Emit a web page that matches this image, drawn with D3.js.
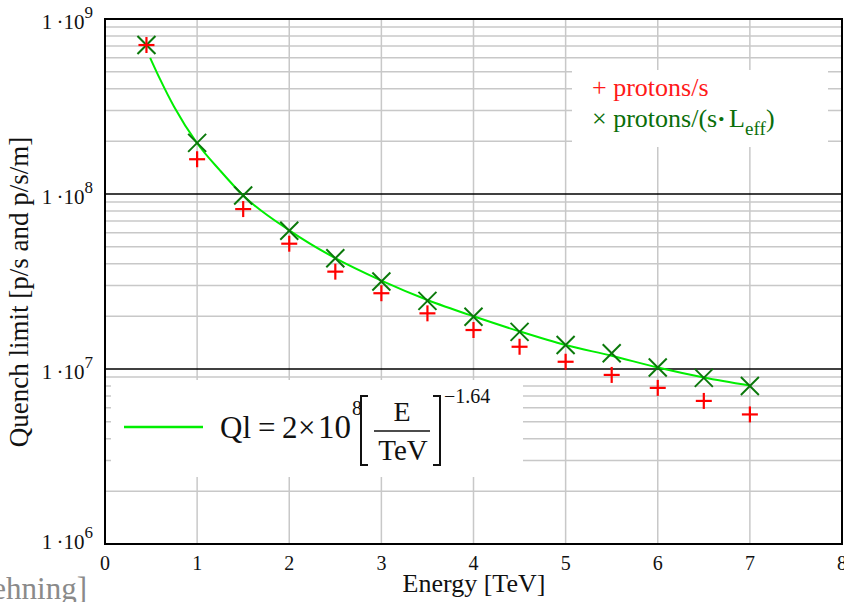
<!DOCTYPE html>
<html>
<head>
<meta charset="utf-8">
<script src="https://cdn.jsdelivr.net/npm/d3@7"></script>
<style>
  html, body { margin: 0; padding: 0; background: #fff; }
  svg { display: block; }
  text { font-family: "Liberation Serif", "Times New Roman", serif; }
</style>
</head>
<body>
<svg id="chart" width="844" height="602"></svg>
<script>
// ---- data ----
const energy = [0.45, 1, 1.5, 2, 2.5, 3, 3.5, 4, 4.5, 5, 5.5, 6, 6.5, 7];
const protonsPerS = [7.1e8, 1.58e8, 8.2e7, 5.2e7, 3.6e7, 2.71e7, 2.08e7, 1.67e7, 1.34e7, 1.10e7, 9.25e6, 7.8e6, 6.57e6, 5.5e6];
const protonsPerSL = [7.1e8, 1.96e8, 9.8e7, 6.17e7, 4.29e7, 3.16e7, 2.45e7, 1.99e7, 1.63e7, 1.37e7, 1.23e7, 1.02e7, 8.9e6, 8.0e6];
const fitE = [0.49, 0.6, 0.75, 1, 1.25, 1.5, 2, 2.5, 3, 3.5, 4, 4.5, 5, 5.5, 6, 6.5, 7];
const fitQ = [6.0e8, 4.5e8, 3.15e8, 1.95e8, 1.36e8, 9.8e7, 6.2e7, 4.3e7, 3.2e7, 2.48e7, 2.0e7, 1.64e7, 1.37e7, 1.19e7, 1.02e7, 8.95e6, 8.05e6];
const xTicks = [0, 1, 2, 3, 4, 5, 6, 7, 8];
const yDecades = [6, 7, 8, 9];
const minorMultipliers = [2, 3, 4, 5, 6, 7, 8, 9];
const xTitle = "Energy [TeV]";
const yTitle = "Quench limit [p/s and p/s/m]";

// ---- layout ----
const L = 105, R = 842, T = 19, B = 544;
const svg = d3.select("#chart");
svg.append("rect").attr("width", 844).attr("height", 602).attr("fill", "#fff");

const x = d3.scaleLinear().domain([0, 8]).range([L, R]);
const y = d3.scaleLog().domain([1e6, 1e9]).range([B, T]);

// minor horizontal grid
const minorVals = [];
yDecades.slice(0, 3).forEach(e => minorMultipliers.forEach(m => minorVals.push(m * Math.pow(10, e))));
svg.append("g").selectAll("line").data(minorVals).join("line")
  .attr("x1", L).attr("x2", R)
  .attr("y1", d => y(d)).attr("y2", d => y(d))
  .attr("stroke", "#c8c8c8").attr("stroke-width", 1.5);

// vertical grid
svg.append("g").selectAll("line").data(xTicks.slice(1, -1)).join("line")
  .attr("x1", d => x(d)).attr("x2", d => x(d))
  .attr("y1", T).attr("y2", B)
  .attr("stroke", "#c8c8c8").attr("stroke-width", 1.5);

// major horizontal lines
svg.append("g").selectAll("line").data(yDecades.slice(1, -1)).join("line")
  .attr("x1", L).attr("x2", R)
  .attr("y1", d => y(Math.pow(10, d))).attr("y2", d => y(Math.pow(10, d)))
  .attr("stroke", "#000").attr("stroke-width", 1.6);

// legend backgrounds (cover grid)
svg.append("rect").attr("x", 572).attr("y", 70).attr("width", 256).attr("height", 77).attr("fill", "#fff");
svg.append("rect").attr("x", 111).attr("y", 380).attr("width", 412).attr("height", 97).attr("fill", "#fff");

// fit curve
const line = d3.line().x(d => x(d[0])).y(d => y(d[1])).curve(d3.curveMonotoneX);
svg.append("path").datum(fitE.map((e, i) => [e, fitQ[i]]))
  .attr("d", line).attr("fill", "none").attr("stroke", "#00ee00").attr("stroke-width", 2);

// green crosses
const gx = svg.append("g").attr("stroke", "#0a780a").attr("stroke-width", 2);
energy.forEach((e, i) => {
  const cx = x(e), cy = y(protonsPerSL[i]), s = 9;
  gx.append("line").attr("x1", cx - s).attr("y1", cy - s).attr("x2", cx + s).attr("y2", cy + s);
  gx.append("line").attr("x1", cx - s).attr("y1", cy + s).attr("x2", cx + s).attr("y2", cy - s);
});
// red plus
const rp = svg.append("g").attr("stroke", "#ff0000").attr("stroke-width", 2.2);
energy.forEach((e, i) => {
  const cx = x(e), cy = y(protonsPerS[i]), s = 8;
  rp.append("line").attr("x1", cx - s).attr("y1", cy).attr("x2", cx + s).attr("y2", cy);
  rp.append("line").attr("x1", cx).attr("y1", cy - s).attr("x2", cx).attr("y2", cy + s);
});

// frame
svg.append("rect").attr("x", L).attr("y", T).attr("width", R - L).attr("height", B - T)
  .attr("fill", "none").attr("stroke", "#000").attr("stroke-width", 2);

// x tick labels
svg.append("g").selectAll("text").data(xTicks).join("text")
  .attr("x", d => x(d)).attr("y", 570).attr("text-anchor", "middle")
  .attr("font-size", 20).attr("fill", "#111").text(d => d);

// y tick labels
yDecades.forEach(e => {
  const yy = y(Math.pow(10, e)) + (e === 6 ? 5 : 10);
  const t = svg.append("text").attr("x", 93).attr("y", yy).attr("text-anchor", "end")
    .attr("font-size", 21).attr("fill", "#111");
  t.append("tspan").text("1\u2009\u00b710");
  t.append("tspan").attr("dy", -11).attr("font-size", 17).text(e);
});

// axis titles
svg.append("text").attr("x", 474).attr("y", 592).attr("text-anchor", "middle")
  .attr("font-size", 26).attr("fill", "#111").text(xTitle);
svg.append("text").attr("transform", "translate(28,292) rotate(-90)")
  .attr("text-anchor", "middle").attr("font-size", 27).attr("fill", "#111").text(yTitle);

// source credit (cut off at left)
svg.append("text").attr("x", 87).attr("y", 599).attr("text-anchor", "end")
  .attr("font-size", 31).attr("fill", "#8a8a8a").text("[B. Dehning]");

// top-right legend
svg.append("text").attr("x", 592).attr("y", 96).attr("font-size", 26).attr("fill", "#ff1a1a")
  .text("+ protons/s");
const lg = svg.append("text").attr("y", 127).attr("font-size", 26).attr("fill", "#0a6e0a");
lg.append("tspan").attr("x", 592).text("\u00d7 protons/(s");
lg.append("tspan").attr("x", 717).attr("font-weight", "bold").text("\u00b7");
lg.append("tspan").attr("x", 729).attr("font-weight", "normal").text("L");
lg.append("tspan").attr("x", 745).attr("dy", 8).attr("font-size", 19).text("eff");
lg.append("tspan").attr("x", 766).attr("dy", -8).text(")");

// formula legend
svg.append("line").attr("x1", 124).attr("x2", 203).attr("y1", 427).attr("y2", 427)
  .attr("stroke", "#00ee00").attr("stroke-width", 2.5);
const fg = svg.append("g").attr("fill", "#111");
fg.append("text").attr("x", 220).attr("y", 438).attr("font-size", 31).text("Ql");
fg.append("text").attr("x", 258).attr("y", 438).attr("font-size", 31).text("=");
fg.append("text").attr("x", 282).attr("y", 438).attr("font-size", 31).text("2");
fg.append("text").attr("x", 298).attr("y", 438).attr("font-size", 31).text("\u00d7");
fg.append("text").attr("x", 318).attr("y", 438).attr("font-size", 33).text("10");
fg.append("text").attr("x", 352).attr("y", 415).attr("font-size", 20).text("8");
// brackets
fg.append("path").attr("d", "M368,396 L361,396 L361,465 L368,465")
  .attr("fill", "none").attr("stroke", "#111").attr("stroke-width", 2);
fg.append("path").attr("d", "M433,396 L440,396 L440,465 L433,465")
  .attr("fill", "none").attr("stroke", "#111").attr("stroke-width", 2);
fg.append("line").attr("x1", 374).attr("x2", 430).attr("y1", 431).attr("y2", 431)
  .attr("stroke", "#111").attr("stroke-width", 1.5);
fg.append("text").attr("x", 402).attr("y", 421).attr("text-anchor", "middle").attr("font-size", 28).text("E");
fg.append("text").attr("x", 403).attr("y", 460).attr("text-anchor", "middle").attr("font-size", 29).text("TeV");
fg.append("text").attr("x", 444).attr("y", 403).attr("font-size", 20).text("\u22121.64");
</script>
</body>
</html>
